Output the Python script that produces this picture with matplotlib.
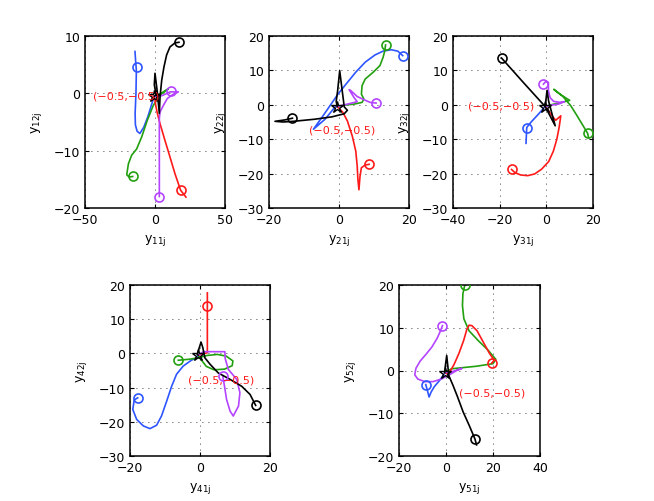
import matplotlib
matplotlib.use("Agg")
import matplotlib.pyplot as plt

plt.rcParams['font.family'] = ['DejaVu Sans']
plt.rcParams['mathtext.fontset'] = 'dejavusans'

# ---------------- data ----------------
series = ['blue', 'green', 'red', 'magenta', 'black']
equilibrium = [-0.5, -0.5]
eq_label = '(\u22120.5,\u22120.5)'

# subplot 1 : y11j / y12j
p1_blue_x = [-14.3, -13.8, -13.3, -13.6, -14.2, -14.0, -12.8, -10.8, -8.0, -5.0, -2.5, -0.5]
p1_blue_y = [7.3, 5.5, 4.0, 0.0, -3.5, -5.5, -6.6, -7.0, -5.9, -4.0, -2.0, -0.5]
p1_green_x = [-15.95, -18.5, -20.2, -19.0, -16.7, -13.1, -9.5, -5.5, -1.2, 3.6, 7.9, 9.5, 6.0, 0.7, -0.5]
p1_green_y = [-14.5, -14.6, -14.2, -12.3, -10.8, -9.7, -7.6, -4.7, -2.1, -0.3, 0.5, 0.8, 0.25, -0.5, -0.5]
p1_red_x = [22.1, 18.3, 14.3, 10.7, 7.1, 3.6, 1.7, 0.5, 0.0, -0.5]
p1_red_y = [-18.1, -16.9, -14.05, -11.1, -8.2, -5.3, -3.5, -2.1, -1.2, -0.5]
p1_magenta_x = [3.1, 3.1, 3.1, 3.6, 6.0, 8.8, 13.1, 16.7, 10.7, 6.0, 2.4, -0.5]
p1_magenta_y = [-18.0, -11.0, -4.4, -3.25, -2.1, -0.9, -0.15, 0.25, 0.25, -0.3, -0.6, -0.5]
p1_black_x = [17.1, 14.3, 10.7, 8.3, 6.4, 4.8, 3.6, 3.1, 1.5, 0.0, -0.5, 0.8, -0.5]
p1_black_y = [8.9, 8.8, 8.1, 6.7, 4.6, 2.3, -0.6, -3.5, 0.5, 3.5, 1.5, -0.3, -0.5]
p1_circle_x = [-13.1, -15.95, 18.3, 3.1, 11.4, 17.1]
p1_circle_y = [4.6, -14.5, -16.9, -18.0, 0.4, 8.9]
p1_circle_s = ['blue', 'green', 'red', 'magenta', 'magenta', 'black']

# subplot 2 : y21j / y22j
p2_blue_x = [18.2, 16.8, 14.9, 12.6, 10.3, 7.5, 4.8, 2.4, -0.3, -2.6, -4.9, -7.3, -4.0, -1.1, -0.5]
p2_blue_y = [14.3, 15.6, 16.0, 15.6, 14.5, 12.4, 9.5, 6.5, 3.1, -0.3, -3.7, -7.1, -4.2, -0.6, -0.5]
p2_green_x = [13.3, 13.1, 12.6, 11.7, 9.8, 7.5, 6.6, 6.4, 7.1, 6.6, 4.3, 1.5, -0.5]
p2_green_y = [17.4, 15.8, 13.8, 11.4, 9.5, 7.5, 5.6, 3.1, 1.7, 0.7, 0.2, -0.1, -0.5]
p2_red_x = [8.6, 7.5, 6.4, 6.0, 5.7, 5.4, 5.2, 4.8, 3.8, 2.4, 1.1, 0.1, -0.5]
p2_red_y = [-17.3, -17.5, -18.3, -20.8, -24.7, -21.7, -17.8, -13.5, -9.1, -4.7, -2.2, -1.1, -0.5]
p2_magenta_x = [10.6, 8.9, 7.1, 5.2, 3.4, 2.9, 4.3, 5.2, 2.4, -0.5]
p2_magenta_y = [0.5, 0.7, 1.5, 2.4, 4.1, 4.4, 2.1, 0.9, 0.2, -0.5]
p2_black_x = [-13.3, -15.5, -18.3, -16.0, -13.0, -7.0, -2.0, 1.5, 2.4, 1.5, 0.2, -0.4, -0.8, -0.5]
p2_black_y = [-3.9, -4.4, -4.8, -5.0, -4.8, -4.2, -3.5, -2.6, -1.6, -0.6, 9.9, 4.0, 1.0, -0.5]
p2_circle_x = [18.2, 13.3, 8.6, 10.6, -13.3]
p2_circle_y = [14.3, 17.4, -17.3, 0.5, -3.9]
p2_circle_s = ['blue', 'green', 'red', 'magenta', 'black']

# subplot 3 : y31j / y32j
p3_blue_x = [-8.7, -8.4, -6.5, -3.5, -0.5]
p3_blue_y = [-11.2, -6.6, -5.0, -2.8, -0.5]
p3_green_x = [18.1, 17.7, 15.5, 13.0, 10.5, 7.0, 3.2, 6.0, 10.0, 6.0, 2.0, -0.5]
p3_green_y = [-9.6, -8.3, -5.8, -3.0, -0.3, 2.5, 4.5, 3.0, 1.3, 0.6, 0.0, -0.5]
p3_red_x = [-14.9, -13.5, -11.0, -8.0, -5.0, -2.0, 1.0, 3.0, 4.5, 5.5, 6.2, 4.0, 2.2, 0.5, -0.5]
p3_red_y = [-18.8, -19.7, -20.4, -20.6, -20.1, -18.7, -16.5, -13.5, -10.0, -6.5, -3.2, -4.5, -3.0, -1.3, -0.5]
p3_magenta_x = [-1.25, -0.1, 0.9, 0.9, 1.6, 3.1, 5.9, 7.7, 5.2, 2.3, -0.5]
p3_magenta_y = [6.0, 6.9, 6.5, 4.1, 2.1, 1.0, 0.7, 0.9, 0.2, -0.1, -0.5]
p3_black_x = [-19.2, -10.0, -0.5, 3.8, 1.0, 0.3, -0.5]
p3_black_y = [13.6, 6.6, -0.5, -6.1, 1.0, 4.2, -0.5]
p3_circle_x = [-8.4, 17.7, -14.9, -1.25, -19.2]
p3_circle_y = [-6.6, -8.3, -18.8, 6.0, 13.6]
p3_circle_s = ['blue', 'green', 'red', 'magenta', 'black']

# subplot 4 : y41j / y42j
p4_blue_x = [-17.8, -18.8, -19.2, -18.1, -16.2, -14.3, -12.4, -11.0, -9.5, -8.1, -6.7, -4.8, -2.4, -1.0, -0.5]
p4_blue_y = [-13.0, -13.6, -16.4, -19.3, -21.2, -22.0, -21.0, -18.3, -13.9, -9.6, -6.1, -3.7, -1.95, -1.3, -0.5]
p4_green_x = [-6.2, -3.0, -0.5, 2.0, 5.0, 7.5, 9.4, 9.2, 7.0, 4.0, 1.8, 0.6, -0.5]
p4_green_y = [-2.0, -1.7, -1.3, -0.6, -0.3, -0.8, -2.2, -3.6, -4.6, -4.8, -3.8, -2.2, -0.5]
p4_red_x = [2.1, 2.1, 2.1, -0.5]
p4_red_y = [17.7, 14.0, 0.2, -0.5]
p4_magenta_x = [6.5, 7.0, 7.6, 8.6, 9.5, 11.0, 11.4, 10.5, 8.1, 7.2, 7.1, 3.0, 1.0, -0.5]
p4_magenta_y = [-6.6, -9.6, -13.5, -16.9, -18.3, -15.4, -11.5, -7.6, -4.7, -1.5, 0.5, 0.5, 0.5, -0.5]
p4_black_x = [15.9, 14.3, 11.9, 8.6, 5.2, 2.9, 1.4, 0.8, 0.3, -0.2, -0.8, -0.5]
p4_black_y = [-15.2, -12.0, -9.6, -7.6, -5.7, -3.2, -1.3, 1.7, 3.3, 1.7, -0.3, -0.5]
p4_circle_x = [-17.8, -6.2, 2.1, 6.5, 15.9]
p4_circle_y = [-13.0, -2.0, 14.0, -6.6, -15.2]
p4_circle_s = ['blue', 'green', 'red', 'magenta', 'black']

# subplot 5 : y51j / y52j
p5_blue_x = [-8.6, -8.0, -7.2, -6.3, -5.0, -3.0, -1.2, -0.5]
p5_blue_y = [-3.3, -4.5, -6.2, -5.0, -3.8, -2.5, -1.2, -0.5]
p5_green_x = [8.0, 7.2, 7.0, 7.6, 9.8, 13.7, 18.0, 21.2, 20.0, 13.0, 5.9, 2.3, -0.5]
p5_green_y = [20.0, 18.0, 15.2, 12.1, 9.3, 7.0, 4.7, 2.6, 1.6, 1.0, 0.6, 0.4, -0.5]
p5_red_x = [19.4, 20.5, 18.5, 16.0, 13.2, 11.0, 9.8, 8.8, 7.5, 5.5, 3.5, 2.0, 0.5, -0.5]
p5_red_y = [1.7, 2.4, 4.0, 6.5, 9.3, 10.5, 10.6, 9.5, 7.0, 4.0, 1.5, 0.0, -0.8, -0.5]
p5_magenta_x = [-1.5, -2.4, -3.8, -6.0, -8.5, -11.0, -12.8, -13.3, -12.0, -9.0, -5.5, -2.0, 1.5, 4.5, 6.8, 3.0, -0.5]
p5_magenta_y = [10.5, 9.2, 7.5, 5.5, 3.8, 2.2, 0.5, -1.0, -2.0, -2.6, -2.6, -2.0, -1.0, 0.0, 0.5, -0.2, -0.5]
p5_black_x = [13.0, 12.3, 10.0, 7.3, 4.8, 3.0, 1.2, 0.3, -0.3, -0.5]
p5_black_y = [-17.4, -16.0, -13.0, -9.7, -6.0, -3.5, -1.2, 3.5, 1.0, -0.5]
p5_circle_x = [-8.6, 8.0, 19.4, -1.5, 12.3]
p5_circle_y = [-3.3, 20.0, 1.7, 10.5, -16.0]
p5_circle_s = ['blue', 'green', 'red', 'magenta', 'black']

# axis limits / ticks
xlims = [(-50, 50), (-20, 20), (-40, 20), (-20, 20), (-20, 40)]
ylims = [(-20, 10), (-30, 20), (-30, 20), (-30, 20), (-20, 20)]
xticks = [[-50, 0, 50], [-20, 0, 20], [-40, -20, 0, 20], [-20, 0, 20], [-20, 0, 20, 40]]
yticks = [[-20, -10, 0, 10], [-30, -20, -10, 0, 10, 20], [-30, -20, -10, 0, 10, 20],
          [-30, -20, -10, 0, 10, 20], [-20, -10, 0, 10, 20]]
xlabels = ['11j', '21j', '31j', '41j', '51j']
ylabels = ['12j', '22j', '32j', '42j', '52j']
label_pos = [(-44, -0.3), (-8.6, -7.3), (-33.5, -0.1), (-3.3, -7.6), (5.6, -5.1)]

# ---------------- assemble ----------------
panels = [
    {'blue': (p1_blue_x, p1_blue_y), 'green': (p1_green_x, p1_green_y), 'red': (p1_red_x, p1_red_y),
     'magenta': (p1_magenta_x, p1_magenta_y), 'black': (p1_black_x, p1_black_y),
     'circles': (p1_circle_x, p1_circle_y, p1_circle_s)},
    {'blue': (p2_blue_x, p2_blue_y), 'green': (p2_green_x, p2_green_y), 'red': (p2_red_x, p2_red_y),
     'magenta': (p2_magenta_x, p2_magenta_y), 'black': (p2_black_x, p2_black_y),
     'circles': (p2_circle_x, p2_circle_y, p2_circle_s)},
    {'blue': (p3_blue_x, p3_blue_y), 'green': (p3_green_x, p3_green_y), 'red': (p3_red_x, p3_red_y),
     'magenta': (p3_magenta_x, p3_magenta_y), 'black': (p3_black_x, p3_black_y),
     'circles': (p3_circle_x, p3_circle_y, p3_circle_s)},
    {'blue': (p4_blue_x, p4_blue_y), 'green': (p4_green_x, p4_green_y), 'red': (p4_red_x, p4_red_y),
     'magenta': (p4_magenta_x, p4_magenta_y), 'black': (p4_black_x, p4_black_y),
     'circles': (p4_circle_x, p4_circle_y, p4_circle_s)},
    {'blue': (p5_blue_x, p5_blue_y), 'green': (p5_green_x, p5_green_y), 'red': (p5_red_x, p5_red_y),
     'magenta': (p5_magenta_x, p5_magenta_y), 'black': (p5_black_x, p5_black_y),
     'circles': (p5_circle_x, p5_circle_y, p5_circle_s)},
]

colors = {'blue': '#2e55ff', 'green': '#22a010', 'red': '#ff1a1a',
          'magenta': '#b444ff', 'black': '#000000'}

W, H = 654, 502
fig = plt.figure(figsize=(W / 100, H / 100), dpi=100)
boxes_px = [(85, 37, 140, 172), (269, 37, 140, 172), (453, 37, 140, 172),
            (130, 286, 140, 171), (399, 286, 141, 171)]

for k, (bx, by, bw, bh) in enumerate(boxes_px):
    ax = fig.add_axes([bx / W, 1 - (by + bh) / H, bw / W, bh / H])
    pdata = panels[k]
    for s in series:
        xs, ys = pdata[s]
        ax.plot(xs, ys, color=colors[s], lw=1.2, solid_joinstyle='round', zorder=2)
    cx, cy, cs = pdata['circles']
    for x, y, s in zip(cx, cy, cs):
        ax.plot([x], [y], 'o', ms=6.5, mfc='none', mec=colors[s], mew=1.2, zorder=3)
    ax.plot([equilibrium[0]], [equilibrium[1]], '*', ms=9, mfc='none', mec='black', mew=1.0, zorder=4)
    ax.text(label_pos[k][0], label_pos[k][1], eq_label, color='#ff1a1a', fontsize=8,
            ha='left', va='center', zorder=5)

    ax.set_xlim(*xlims[k])
    ax.set_ylim(*ylims[k])
    ax.set_xticks(xticks[k])
    ax.set_yticks(yticks[k])
    ax.grid(True, color='black', lw=0.6, linestyle=(0, (1, 6.2)))
    ax.set_axisbelow(True)
    ax.tick_params(direction='in', length=3, width=0.8, labelsize=9, top=True, right=True)
    for sp in ax.spines.values():
        sp.set_linewidth(1.1)
    ax.set_xlabel(r'y$_{\mathrm{%s}}$' % xlabels[k], fontsize=9)
    ax.set_ylabel(r'y$_{\mathrm{%s}}$' % ylabels[k], fontsize=9)
    ax.xaxis.set_label_coords(0.5, -0.14)
    ax.yaxis.set_label_coords(-0.29, 0.5)

fig.savefig('out.png', dpi=100)
